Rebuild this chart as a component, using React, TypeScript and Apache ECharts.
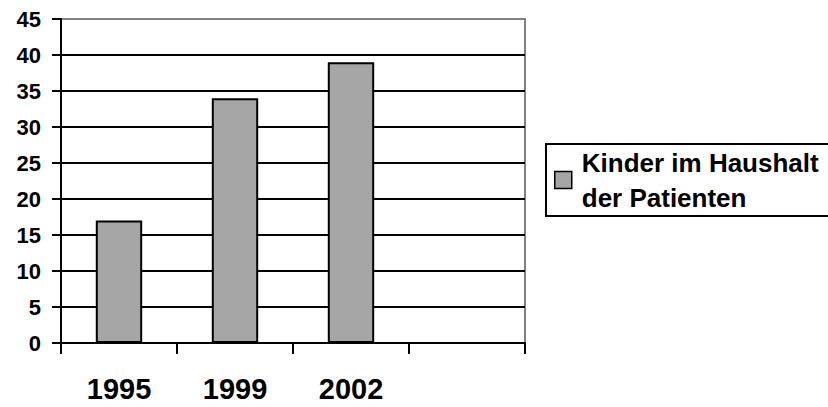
import React, { useEffect, useRef } from "react";
import * as echarts from "echarts";

const categories = ["1995", "1999", "2002", ""];
const seriesName = "Kinder im Haushalt\nder Patienten";
const values = [17, 34, 39, null];
const yMin = 0;
const yMax = 45;
const yInterval = 5;

const FONT = "'Liberation Sans', Arial, Helvetica, sans-serif";

export default function App() {
  const ref = useRef<HTMLDivElement>(null);
  useEffect(() => {
    if (!ref.current) return;
    const chart = echarts.init(ref.current, null, { renderer: "svg" });
    const splitColors: string[] = [];
    const n = Math.round((yMax - yMin) / yInterval);
    for (let i = 0; i <= n; i++) splitColors.push(i === n ? "#808080" : "#000000");
    chart.setOption({
      animation: false,
      backgroundColor: "#ffffff",
      grid: {
        left: 61,
        right: 303,
        top: 19,
        bottom: 64,
        containLabel: false,
        show: true,
        borderColor: "#808080",
        borderWidth: 2,
        backgroundColor: "#ffffff",
      },
      legend: {
        show: true,
        orient: "vertical",
        left: 546,
        top: 144,
        padding: [1, 40, 1, 8],
        borderColor: "#000",
        borderWidth: 2,
        itemWidth: 17,
        itemHeight: 17,
        itemGap: 0,
        icon: "rect",
        itemStyle: { borderColor: "#000", borderWidth: 1.5 },
        textStyle: {
          fontFamily: FONT,
          fontWeight: "bold",
          fontSize: 26,
          lineHeight: 35,
          color: "#000",
          padding: [0, 0, 0, 5],
        },
        data: [seriesName],
      },
      xAxis: {
        type: "category",
        data: categories,
        boundaryGap: true,
        axisLine: { show: true, lineStyle: { color: "#000", width: 2 } },
        axisTick: { show: true, length: 11, inside: false, lineStyle: { color: "#000", width: 2 } },
        axisLabel: {
          margin: 31,
          fontFamily: FONT,
          fontWeight: "bold",
          fontSize: 29,
          color: "#000",
          interval: 0,
        },
        splitLine: { show: false },
      },
      yAxis: {
        type: "value",
        min: yMin,
        max: yMax,
        interval: yInterval,
        axisLine: { show: true, lineStyle: { color: "#000", width: 2 } },
        axisTick: { show: true, length: 9, inside: false, lineStyle: { color: "#000", width: 2 } },
        axisLabel: {
          margin: 20,
          fontFamily: FONT,
          fontWeight: "bold",
          fontSize: 22,
          color: "#000",
        },
        splitLine: { show: true, lineStyle: { color: splitColors, width: 2 } },
      },
      series: [
        {
          name: seriesName,
          type: "bar",
          data: values,
          barWidth: "40%",
          itemStyle: { color: "#a6a6a6", borderColor: "#000", borderWidth: 2 },
        },
      ],
    });
    return () => chart.dispose();
  }, []);
  return (
    <div
      ref={ref}
      style={{ position: "fixed", left: 0, top: 0, width: 828, height: 407 }}
    />
  );
}
